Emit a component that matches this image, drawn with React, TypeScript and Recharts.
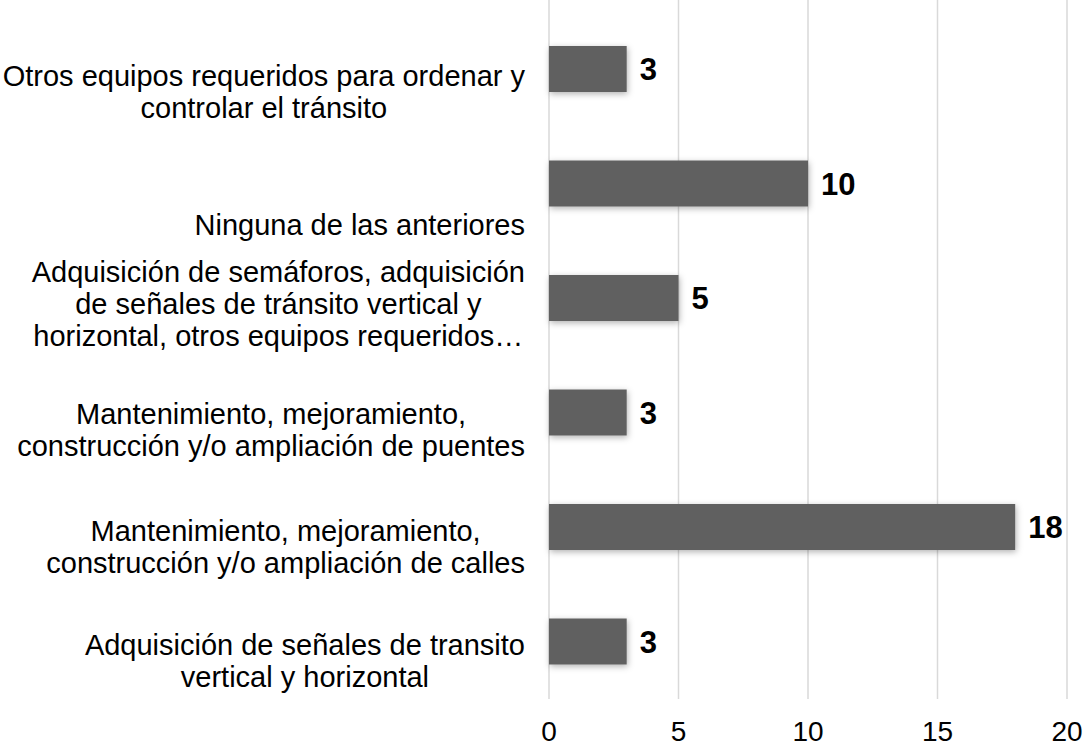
import { BarChart, Bar, XAxis, YAxis, CartesianGrid, LabelList } from 'recharts'

const CATEGORIES = [
  'Otros equipos requeridos para ordenar y\ncontrolar el tránsito',
  'Ninguna de las anteriores',
  'Adquisición de semáforos, adquisición\nde señales de tránsito vertical y\nhorizontal, otros equipos requeridos…',
  'Mantenimiento, mejoramiento,\nconstrucción y/o ampliación de puentes',
  'Mantenimiento, mejoramiento,\nconstrucción y/o ampliación de calles',
  'Adquisición de señales de transito\nvertical y horizontal',
]
const VALUES = [3, 10, 5, 3, 18, 3]
const X_TICKS = [0, 5, 10, 15, 20]

const FONT = '"Liberation Sans", Arial, sans-serif'
const LABEL_SIZE = 29
const LINE_H = 32
// Excel placed the wrapped labels a bit off the band centre
const LINE_SHIFT = [6, 41, -27, 1, 3, 3]

const data = CATEGORIES.map((name, i) => ({ name, value: VALUES[i] }))

let ctx: CanvasRenderingContext2D | null = null
function textWidth(s: string) {
  if (!ctx) ctx = document.createElement('canvas').getContext('2d')
  if (!ctx) return s.length * LABEL_SIZE * 0.5
  ctx.font = `${LABEL_SIZE}px ${FONT}`
  return ctx.measureText(s).width
}

function CategoryTick(props: any) {
  const { x, y, payload, index } = props
  const lines: string[] = String(payload.value).split('\n')
  const right = x - 22
  const maxW = Math.max(...lines.map(textWidth))
  const cx = right - maxW / 2
  const shift = LINE_SHIFT[index] ?? 0
  return (
    <g>
      {lines.map((line, i) => (
        <text
          key={i}
          x={cx}
          y={y + shift + i * LINE_H + 10.5}
          textAnchor="middle"
          fontFamily={FONT}
          fontSize={LABEL_SIZE}
          fill="#000"
        >
          {line}
        </text>
      ))}
    </g>
  )
}

function ValueTick(props: any) {
  const { x, y, payload } = props
  return (
    <text x={x} y={y + 15} textAnchor="middle" fontFamily={FONT} fontSize={28} fill="#000">
      {payload.value}
    </text>
  )
}

export default function App() {
  return (
    <div style={{ position: 'absolute', left: 0, top: 0, background: '#fff' }}>
      <BarChart
        width={1087}
        height={749}
        data={data}
        layout="vertical"
        margin={{ top: 0, right: 20, bottom: 0, left: 0 }}
      >
        <defs>
          <filter id="barShadow" x="-10%" y="-40%" width="120%" height="180%">
            <feDropShadow dx="1" dy="2" stdDeviation="3" floodColor="#000" floodOpacity="0.3" />
          </filter>
        </defs>
        <CartesianGrid horizontal={false} stroke="#d9d9d9" strokeWidth={1.5} />
        <XAxis
          type="number"
          domain={[0, 20]}
          ticks={X_TICKS}
          axisLine={false}
          tickLine={false}
          tickSize={0}
          tickMargin={27}
          height={50}
          interval={0}
          tick={<ValueTick />}
        />
        <YAxis
          type="category"
          dataKey="name"
          width={549}
          axisLine={false}
          tickLine={false}
          tickSize={0}
          padding={{ top: 12, bottom: 0 }}
          interval={0}
          tick={<CategoryTick />}
        />
        <Bar
          dataKey="value"
          fill="#606060"
          barSize={46}
          isAnimationActive={false}
          style={{ filter: 'url(#barShadow)' }}
        >
          <LabelList
            dataKey="value"
            position="right"
            offset={13}
            fill="#000"
            fontSize={31}
            fontWeight="bold"
            fontFamily={FONT}
          />
        </Bar>
      </BarChart>
    </div>
  )
}
